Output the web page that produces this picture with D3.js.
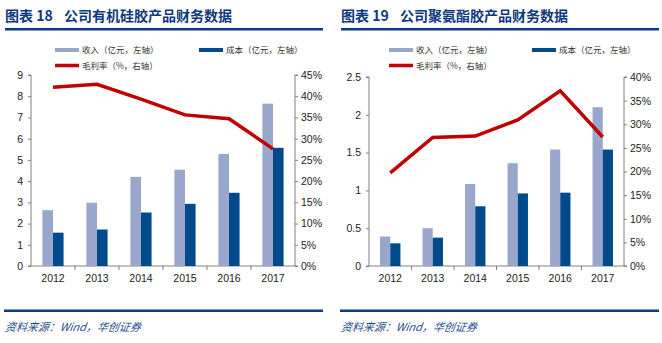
<!DOCTYPE html>
<html>
<head>
<meta charset="utf-8">
<script src="https://cdn.jsdelivr.net/npm/d3@7/dist/d3.min.js"></script>
<style>
body { margin: 0; background: #fff; }
svg { display: block; }
.ax text { font-family: "Liberation Sans", Arial, sans-serif; font-size: 10.5px; fill: #222; }
.ax path, .ax line { stroke: #808080; }
</style>
</head>
<body>
<script>
var years = ["2012", "2013", "2014", "2015", "2016", "2017"];

// 图表18 有机硅胶
var revenue18 = [2.63, 2.98, 4.2, 4.54, 5.28, 7.65];
var cost18 = [1.57, 1.72, 2.52, 2.93, 3.45, 5.57];
var margin18 = [0.421, 0.428, 0.393, 0.356, 0.347, 0.276];

// 图表19 聚氨酯胶
var revenue19 = [0.39, 0.50, 1.085, 1.36, 1.54, 2.10];
var cost19 = [0.30, 0.375, 0.79, 0.96, 0.97, 1.54];
var margin19 = [0.197, 0.272, 0.275, 0.309, 0.371, 0.273];

var legendLabels = ["收入（亿元，左轴）", "成本（亿元，左轴）", "毛利率（%，右轴）"];
var source = "资料来源：Wind，华创证券";

var cRev = "#9aa7cd", cCost = "#004a8c", cLine = "#c00000", cNavy = "#0d3a80";

var svg = d3.select("body").append("svg")
	.attr("width", 662)
	.attr("height", 343);

function drawChart(ox, num, title, rev, cost, margin, leftMax, leftStep, rightMax, box) {
	var g = svg.append("g").attr("transform", "translate(" + ox + ",0)");

	var tt = g.append("text")
		.attr("y", 21)
		.attr("font-family", "'Noto Sans CJK SC', sans-serif")
		.attr("font-weight", "bold")
		.attr("font-size", 14)
		.attr("fill", cNavy);
	tt.append("tspan").attr("x", box.tx).text("图表 " + num);
	tt.append("tspan").attr("x", box.tx + 59).text(title);
	g.append("rect").attr("x", box.tx).attr("y", 28).attr("width", box.w).attr("height", 2.5).attr("fill", cNavy);
	g.append("rect").attr("x", box.tx - 1).attr("y", 309.5).attr("width", box.w + 1).attr("height", 2.5).attr("fill", cNavy);
	g.append("text")
		.attr("x", box.tx).attr("y", 331)
		.attr("font-family", "'Noto Sans CJK SC', sans-serif")
		.attr("font-style", "italic")
		.attr("font-size", 11)
		.attr("fill", "#1f4f8f")
		.attr("transform", "skewX(-8) translate(46,0)")
		.text(source);

	// legend
	var lg = g.append("g")
		.attr("font-family", "'Noto Sans CJK SC', sans-serif")
		.attr("font-size", 8.5)
		.attr("fill", "#333");
	var items = [
		{x: box.lx1, y: 50, c: cRev, h: 4},
		{x: box.lx2, y: 50, c: cCost, h: 4},
		{x: box.lx1, y: 65.5, c: cLine, h: 3.5}
	];
	items.forEach(function(d, i) {
		lg.append("rect").attr("x", d.x).attr("y", d.y - d.h / 2).attr("width", 24).attr("height", d.h).attr("fill", d.c);
		lg.append("text").attr("x", d.x + 27).attr("y", d.y + 3).text(legendLabels[i]);
	});

	var x0 = d3.scaleBand().domain(years).range([box.l, box.r]).paddingInner(0.52).paddingOuter(0.26);
	var x1 = d3.scaleBand().domain(["rev", "cost"]).range([0, x0.bandwidth()]);
	var yL = d3.scaleLinear().domain([0, leftMax]).range([box.b, box.t]);
	var yR = d3.scaleLinear().domain([0, rightMax]).range([box.b, box.t]);
	var band = d3.scaleBand().domain(years).range([box.l, box.r]);

	var leftTicks = d3.range(0, leftMax + 1e-9, leftStep);
	g.append("g").attr("class", "ax")
		.attr("transform", "translate(" + box.l + ",0)")
		.call(d3.axisLeft(yL).tickValues(leftTicks).tickSize(3).tickPadding(5).tickFormat(d3.format("~g")))
		.call(function(s) { s.select(".domain").attr("d", "M-3," + box.t + "H0V" + box.b + "H-3"); });

	g.append("g").attr("class", "ax")
		.attr("transform", "translate(" + box.r + ",0)")
		.call(d3.axisRight(yR).ticks(rightMax / 0.05).tickSize(3).tickPadding(3).tickFormat(d3.format(".0%")))
		.call(function(s) { s.select(".domain").attr("d", "M3," + box.t + "H0V" + box.b + "H3"); });

	var xa = g.append("g").attr("class", "ax")
		.attr("transform", "translate(0," + box.b + ")")
		.call(d3.axisBottom(band).tickSize(0).tickPadding(9));
	xa.select(".domain").attr("d", "M" + box.l + ",0H" + box.r);
	xa.selectAll(".bt").data(years.slice(1)).enter().append("line")
		.attr("x1", function(d) { return band(d); }).attr("x2", function(d) { return band(d); })
		.attr("y1", 0).attr("y2", 4).attr("stroke", "#808080");

	var grp = g.selectAll(".yr").data(years).enter().append("g")
		.attr("transform", function(d) { return "translate(" + x0(d) + ",0)"; });
	grp.append("rect")
		.attr("x", x1("rev")).attr("width", x1.bandwidth())
		.attr("y", function(d, i) { return yL(rev[i]); })
		.attr("height", function(d, i) { return box.b - yL(rev[i]); })
		.attr("fill", cRev);
	grp.append("rect")
		.attr("x", x1("cost")).attr("width", x1.bandwidth())
		.attr("y", function(d, i) { return yL(cost[i]); })
		.attr("height", function(d, i) { return box.b - yL(cost[i]); })
		.attr("fill", cCost);

	var line = d3.line()
		.x(function(d, i) { return band(years[i]) + band.bandwidth() / 2; })
		.y(function(d) { return yR(d); });
	g.append("path").datum(margin)
		.attr("d", line)
		.attr("fill", "none")
		.attr("stroke", cLine)
		.attr("stroke-width", 3.5);
}

drawChart(0, "18", "公司有机硅胶产品财务数据", revenue18, cost18, margin18, 9, 1, 0.45,
	{l: 31, r: 295, t: 75, b: 266, lx1: 55, lx2: 199, tx: 5, w: 318});
drawChart(331, "19", "公司聚氨酯胶产品财务数据", revenue19, cost19, margin19, 2.5, 0.5, 0.40,
	{l: 38, r: 293, t: 77, b: 266, lx1: 58, lx2: 201, tx: 10, w: 318});
</script>
</body>
</html>
